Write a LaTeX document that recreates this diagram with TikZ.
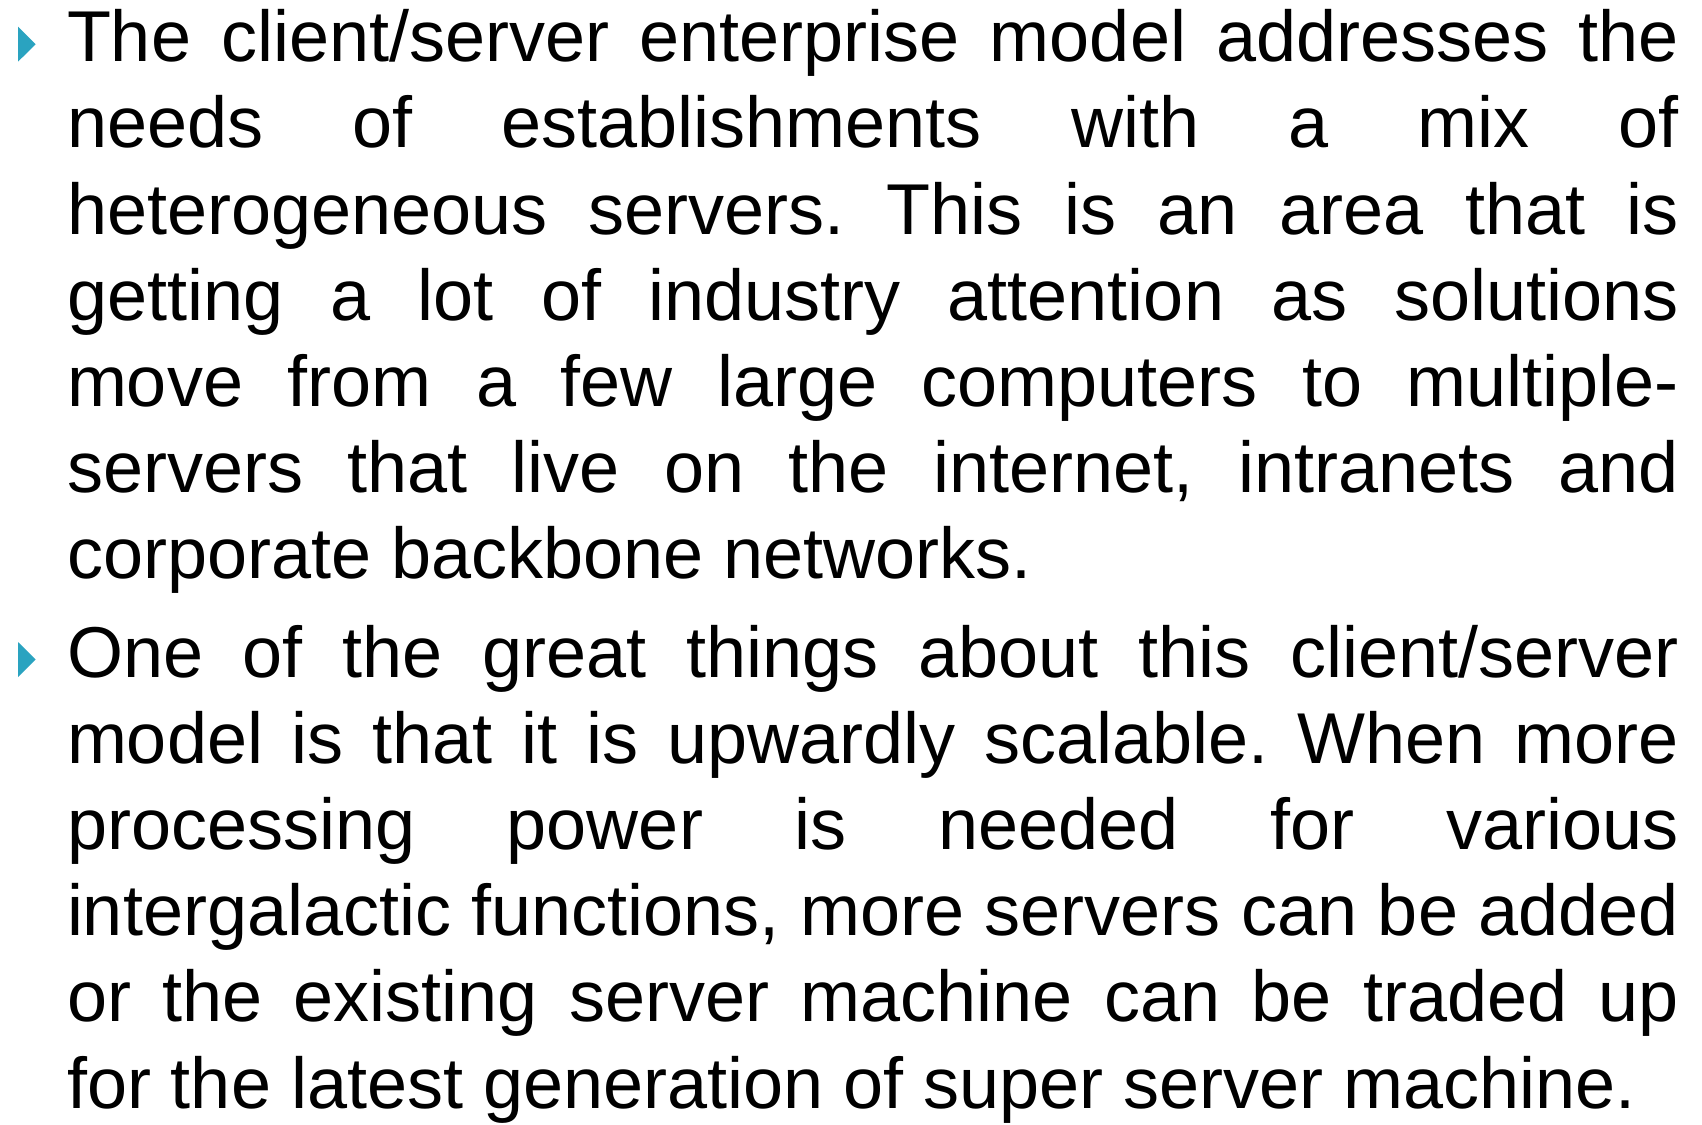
\documentclass[tikz,border=0pt]{standalone}
\usepackage{fontspec}
\setmainfont{Liberation Sans}
\usetikzlibrary{calc}
\definecolor{bulletteal}{RGB}{42,163,192}
\tikzset{
  para/.style={anchor=base west, inner sep=0pt, outer sep=0pt,
    font=\fontsize{72}{86.2}\selectfont},
  bullettri/.style={fill=bulletteal, draw=none}
}
\newcommand{\parabox}[1]{\parbox[t]{1612pt}{\frenchspacing\tolerance=10000\hyphenpenalty=10000\exhyphenpenalty=10000\emergencystretch=0pt #1}}
\begin{document}
\begin{tikzpicture}[x=1pt,y=1pt]
  \useasboundingbox[fill=white] (0,0) rectangle (1702,-1124);

  % first paragraph
  \node[para] (p1) at (67,-61.7) {\parabox{%
    The client/server enterprise model addresses the\linebreak
    needs of establishments with a mix of\linebreak
    heterogeneous servers. This is an area that is\linebreak
    getting a lot of industry attention as solutions\linebreak
    move from a few large computers to multiple-\linebreak
    servers that live on the internet, intranets and\linebreak
    corporate backbone networks.}};

  % second paragraph
  \node[para] (p2) at (67,-677) {\parabox{%
    One of the great things about this client/server\linebreak
    model is that it is upwardly scalable. When more\linebreak
    processing power is needed for various\linebreak
    intergalactic functions, more servers can be added\linebreak
    or the existing server machine can be traded up\linebreak
    for the latest generation of super server machine.}};

  % bullet markers
  \path[bullettri] ($(p1.base west)+(-49,0)$) -- ++(0,35) -- ++(17.7,-17.5) -- cycle;
  \path[bullettri] ($(p2.base west)+(-49,0)$) -- ++(0,35) -- ++(17.7,-17.5) -- cycle;
\end{tikzpicture}
\end{document}
